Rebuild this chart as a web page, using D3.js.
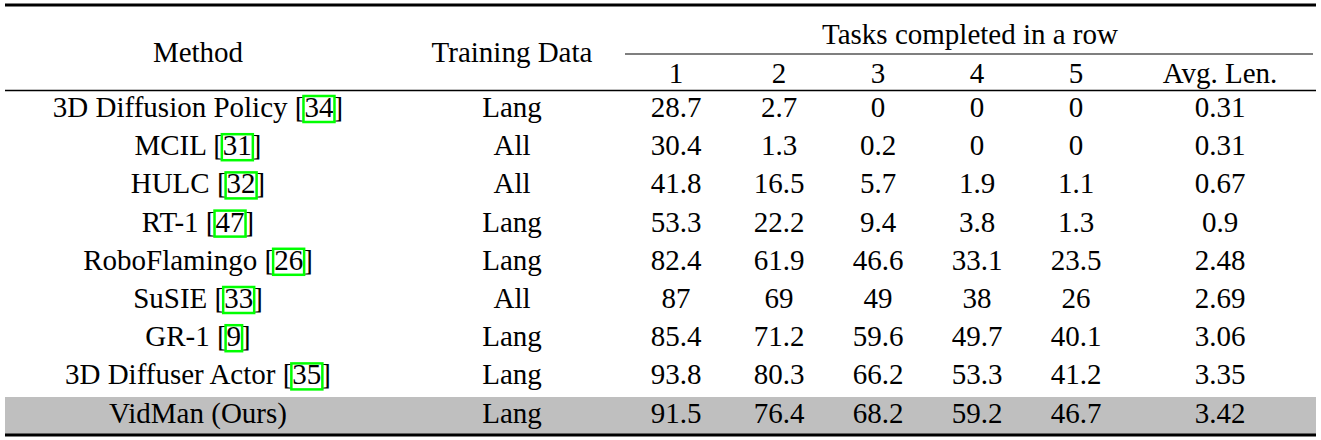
<!DOCTYPE html><html><head><meta charset="utf-8">
<script src="https://cdn.jsdelivr.net/npm/d3@7"></script>
<style>body{margin:0;background:#fff}</style>
</head><body><svg id="s" width="1321" height="440"></svg>
<script>
const methods=["3D Diffusion Policy","MCIL","HULC","RT-1","RoboFlamingo","SuSIE","GR-1","3D Diffuser Actor","VidMan (Ours)"];
const cites=["34","31","32","47","26","33","9","35",null];
const trainingData=["Lang","All","All","Lang","Lang","All","Lang","Lang","Lang"];
const task1=["28.7","30.4","41.8","53.3","82.4","87","85.4","93.8","91.5"];
const task2=["2.7","1.3","16.5","22.2","61.9","69","71.2","80.3","76.4"];
const task3=["0","0.2","5.7","9.4","46.6","49","59.6","66.2","68.2"];
const task4=["0","0","1.9","3.8","33.1","38","49.7","53.3","59.2"];
const task5=["0","0","1.1","1.3","23.5","26","40.1","41.2","46.7"];
const avgLen=["0.31","0.31","0.67","0.9","2.48","2.69","3.06","3.35","3.42"];
const subHeaders=["1","2","3","4","5","Avg. Len."];
const FONT="'Liberation Serif','Times New Roman','DejaVu Serif',serif";
const svg=d3.select("#s");
const colX=[198,512,676,779,878,977,1076,1220];
const y=d3.scaleLinear().domain([0,1]).range([117,155.2]);
svg.append("rect").attr("x",5).attr("y",397).attr("width",1311).attr("height",37).attr("fill","#bfbfbf");
const line=(x1,x2,yy,w)=>svg.append("line").attr("x1",x1).attr("x2",x2).attr("y1",yy).attr("y2",yy).attr("stroke","#000").attr("stroke-width",w);
line(5,1316,5,3);line(625,1313,54,1.2);line(5,1316,90.5,1.5);line(5,1316,435,3);
const t=(x,yy,s,a="middle")=>svg.append("text").attr("x",x).attr("y",yy).attr("text-anchor",a)
  .attr("font-family",FONT).attr("font-size",29).attr("fill","#000").text(s);
t(colX[0],62,"Method");t(colX[1],62,"Training Data");t(970,44,"Tasks completed in a row");
subHeaders.forEach((s,i)=>t(colX[i+2],83,s));
function w(s){const e=t(0,0,s,"start");const l=e.node().getComputedTextLength();e.remove();return l;}
methods.forEach((m,i)=>{
  const yy=y(i);
  if(cites[i]==null){t(colX[0],yy,m);}else{
    const a=m+" [",b=cites[i],c="]";
    const wa=w(a),wb=w(b),wc=w(c),tot=wa+wb+wc;
    const x0=colX[0]-tot/2;
    t(x0,yy,a,"start");t(x0+wa,yy,b,"start");t(x0+wa+wb,yy,c,"start");
    svg.append("rect").attr("x",x0+wa-1).attr("y",yy-21).attr("width",wb+2).attr("height",26).attr("fill","none").attr("stroke","#00ff00").attr("stroke-width",2.5);
  }
  [trainingData,task1,task2,task3,task4,task5,avgLen].forEach((arr,j)=>t(colX[j+1],yy,arr[i]));
});
</script></body></html>
